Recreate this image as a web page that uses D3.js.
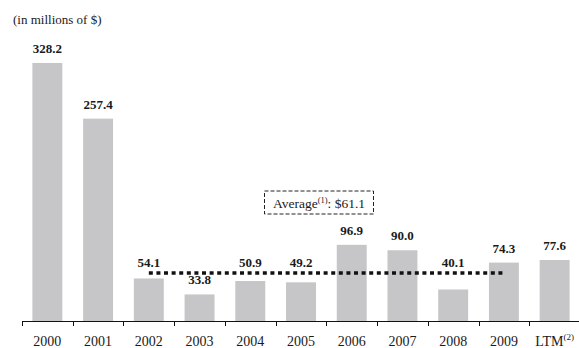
<!DOCTYPE html>
<html>
<head>
<meta charset="utf-8">
<script src="https://cdn.jsdelivr.net/npm/d3@7"></script>
<style>
  html, body { margin: 0; padding: 0; background: #fff; }
  svg { display: block; }
  text { font-family: "Liberation Serif", "Times New Roman", serif; fill: #1a1a1a; }
</style>
</head>
<body>
<svg id="chart" width="579" height="348"></svg>
<script>
const categories = ["2000","2001","2002","2003","2004","2005","2006","2007","2008","2009","LTM"];
const values = [328.2, 257.4, 54.1, 33.8, 50.9, 49.2, 96.9, 90.0, 40.1, 74.3, 77.6];
const averageValue = 61.1;
const averageFrom = "2002";
const averageTo = "2009";
const unitLabel = "(in millions of $)";

const svg = d3.select("#chart");
const W = 579, H = 348;
const axisY = 321;

const x = d3.scaleBand().domain(categories).range([22, 580]).paddingInner(0.41).paddingOuter(0.205);
const y = d3.scaleLinear().domain([0, 328.2]).range([axisY, 63]);
const bw = x.bandwidth();
const step = x.step();
const avgY = y(averageValue);

// unit label
svg.append("text").attr("x", 13).attr("y", 24).attr("font-size", 13).text(unitLabel);

// bars
svg.selectAll("rect.bar").data(categories).join("rect")
  .attr("class", "bar")
  .attr("x", d => x(d))
  .attr("y", (d, i) => y(values[i]))
  .attr("width", bw)
  .attr("height", (d, i) => axisY - y(values[i]))
  .attr("fill", "#c6c6c8");

// value labels (lifted above the average line where they would collide)
function labelY(v) {
  let b = y(v) - 10;
  if (b > avgY - 6 && b - 9 < avgY + 2) b = avgY - 6;
  return b;
}
svg.selectAll("text.val").data(categories).join("text")
  .attr("class", "val")
  .attr("x", d => x(d) + bw / 2)
  .attr("y", (d, i) => labelY(values[i]))
  .attr("text-anchor", "middle")
  .attr("font-size", 13)
  .attr("font-weight", "bold")
  .text((d, i) => values[i].toFixed(1));

// average dotted line
svg.append("line")
  .attr("x1", x(averageFrom) + bw / 2)
  .attr("x2", x(averageTo) + bw / 2)
  .attr("y1", avgY)
  .attr("y2", avgY)
  .attr("stroke", "#111")
  .attr("stroke-width", 3.5)
  .attr("stroke-dasharray", "4,3.6");

// average box
const boxCx = x("2005") + bw / 2 + 18;
const boxW = 109, boxH = 23, boxTop = 191;
svg.append("rect")
  .attr("x", boxCx - boxW / 2).attr("y", boxTop)
  .attr("width", boxW).attr("height", boxH)
  .attr("fill", "none").attr("stroke", "#222").attr("stroke-width", 1)
  .attr("stroke-dasharray", "4,2");
const avgText = svg.append("text")
  .attr("x", boxCx).attr("y", boxTop + 17)
  .attr("text-anchor", "middle").attr("font-size", 13.5);
avgText.append("tspan").text("Average");
avgText.append("tspan").attr("font-size", 8.5).attr("dy", -5).text("(1)");
avgText.append("tspan").attr("dy", 5).text(": $" + averageValue.toFixed(1));

// x axis
const axis = svg.append("g");
axis.append("line").attr("x1", 22).attr("x2", W).attr("y1", axisY + 0.5).attr("y2", axisY + 0.5)
  .attr("stroke", "#111").attr("stroke-width", 1);
axis.selectAll("line.tick").data(categories).join("line")
  .attr("class", "tick")
  .attr("x1", d => Math.round(x(d) - step * 0.205) + 0.5)
  .attr("x2", d => Math.round(x(d) - step * 0.205) + 0.5)
  .attr("y1", axisY).attr("y2", axisY + 5)
  .attr("stroke", "#111").attr("stroke-width", 1);

const labels = axis.selectAll("text.xl").data(categories).join("text")
  .attr("class", "xl")
  .attr("x", d => x(d) + bw / 2)
  .attr("y", 346)
  .attr("text-anchor", "middle")
  .attr("font-size", 14);
labels.each(function(d) {
  const t = d3.select(this);
  if (d === "LTM") {
    t.append("tspan").text("LTM");
    t.append("tspan").attr("font-size", 9).attr("dy", -6).text("(2)");
  } else {
    t.text(d);
  }
});
</script>
</body>
</html>
